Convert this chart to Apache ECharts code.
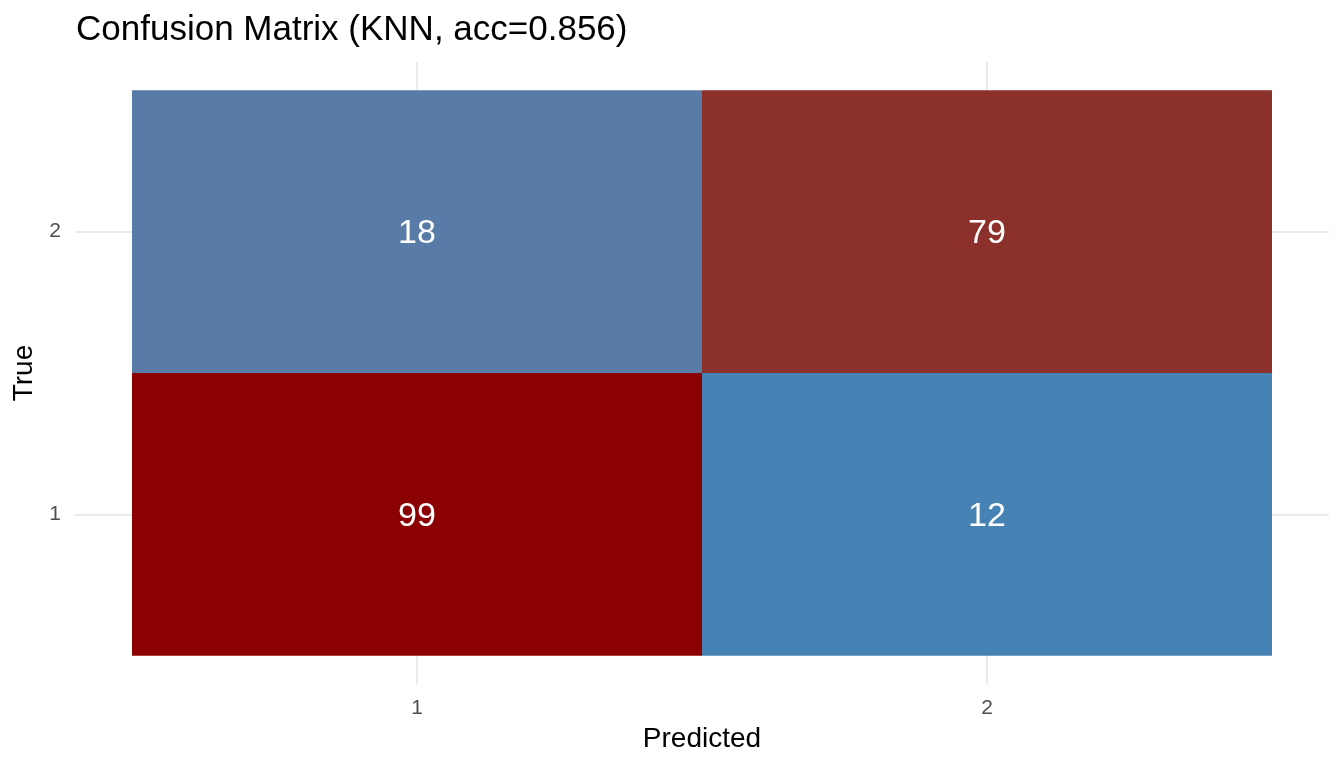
<!DOCTYPE html>
<html>
<head>
<meta charset="utf-8">
<script src="https://cdn.jsdelivr.net/npm/echarts@6/dist/echarts.min.js"></script>
<style>html,body{margin:0;padding:0;background:#fff;}#chart{width:1344px;height:768px;}</style>
</head>
<body>
<div id="chart"></div>
<script>
// ---- data ----
const predictedLabels = ['1', '2'];
const trueLabels = ['1', '2'];
// counts for True = 1 (by predicted 1, 2)
const countsTrue1 = [99, 12];
// counts for True = 2 (by predicted 1, 2)
const countsTrue2 = [18, 79];
const titleText = 'Confusion Matrix (KNN, acc=0.856)';

const rows = [countsTrue1, countsTrue2];
const cells = [];
rows.forEach((row, ti) => row.forEach((v, pi) => cells.push([pi + 1, ti + 1, v])));
const allVals = cells.map(c => c[2]);
const vMin = Math.min(...allVals), vMax = Math.max(...allVals);

// Lab interpolation (like ggplot2 scale_fill_gradient)
function hexToRgb(h){return [parseInt(h.slice(1,3),16),parseInt(h.slice(3,5),16),parseInt(h.slice(5,7),16)];}
function srgbToLin(c){c/=255;return c<=0.04045?c/12.92:Math.pow((c+0.055)/1.055,2.4);}
function linToSrgb(c){const v=c<=0.0031308?12.92*c:1.055*Math.pow(c,1/2.4)-0.055;return Math.max(0,Math.min(255,Math.round(v*255)));}
const Xn=0.95047,Yn=1.0,Zn=1.08883;
function f(t){return t>0.008856?Math.cbrt(t):(7.787*t+16/116);}
function finv(t){return t*t*t>0.008856?t*t*t:(t-16/116)/7.787;}
function rgbToLab(rgb){const [r,g,b]=rgb.map(srgbToLin);
 const X=r*0.4124+g*0.3576+b*0.1805,Y=r*0.2126+g*0.7152+b*0.0722,Z=r*0.0193+g*0.1192+b*0.9505;
 const fx=f(X/Xn),fy=f(Y/Yn),fz=f(Z/Zn);return [116*fy-16,500*(fx-fy),200*(fy-fz)];}
function labToHex(lab){const fy=(lab[0]+16)/116,fx=fy+lab[1]/500,fz=fy-lab[2]/200;
 const X=finv(fx)*Xn,Y=finv(fy)*Yn,Z=finv(fz)*Zn;
 const r=X*3.2406+Y*-1.5372+Z*-0.4986,g=X*-0.9689+Y*1.8758+Z*0.0415,b=X*0.0557+Y*-0.2040+Z*1.0570;
 return '#'+[r,g,b].map(linToSrgb).map(x=>x.toString(16).padStart(2,'0')).join('');}
const lowLab=rgbToLab(hexToRgb('#4682B4')), highLab=rgbToLab(hexToRgb('#8B0000'));
function colorFor(v){const t=(v-vMin)/(vMax-vMin);return labToHex(lowLab.map((l,i)=>l+(highLab[i]-l)*t));}

const font = 'Liberation Sans, Arial, Helvetica, sans-serif';
const chart = echarts.init(document.getElementById('chart'), null, {renderer:'canvas'});
chart.setOption({
  animation:false,
  backgroundColor:'#fff',
  title:{text:titleText,left:70,top:13,padding:[0,0,0,6],textStyle:{fontFamily:font,fontSize:35,fontWeight:'normal',color:'#000'}},
  grid:{left:75,right:15,top:62,bottom:84,containLabel:false},
  xAxis:{type:'value',min:0.4,max:2.6,
    name:'Predicted',nameLocation:'middle',nameGap:41,
    nameTextStyle:{fontFamily:font,fontSize:28,color:'#000'},
    axisLine:{show:false},
    axisTick:{show:false,customValues:[1,2]},
    axisLabel:{customValues:[1,2],margin:14,fontFamily:font,fontSize:21,color:'#4D4D4D',formatter:v=>predictedLabels[Math.round(v)-1]},
    splitLine:{show:true,lineStyle:{color:'#EBEBEB',width:2}}},
  yAxis:{type:'value',min:0.4,max:2.6,
    name:'True',nameLocation:'middle',nameGap:34,nameRotate:90,
    nameTextStyle:{fontFamily:font,fontSize:28,color:'#000'},
    axisLine:{show:false},
    axisTick:{show:false,customValues:[1,2]},
    axisLabel:{customValues:[1,2],margin:14,fontFamily:font,fontSize:21,color:'#4D4D4D',formatter:v=>trueLabels[Math.round(v)-1]},
    splitLine:{show:true,lineStyle:{color:'#EBEBEB',width:2}}},
  series:[{
    type:'custom',
    data:cells,
    encode:{x:0,y:1},
    renderItem:function(params, api){
      const x=api.value(0), y=api.value(1), v=api.value(2);
      const p1=api.coord([x-0.5,y+0.5]);
      const p2=api.coord([x+0.5,y-0.5]);
      return {type:'group',children:[
        {type:'rect',shape:{x:p1[0],y:p1[1],width:p2[0]-p1[0],height:p2[1]-p1[1]},style:{fill:colorFor(v)}},
        {type:'text',style:{text:String(v),x:(p1[0]+p2[0])/2,y:(p1[1]+p2[1])/2+2,align:'center',verticalAlign:'middle',fill:'#fff',fontFamily:font,fontSize:34}}
      ]};
    }
  }]
});
</script>
</body>
</html>
